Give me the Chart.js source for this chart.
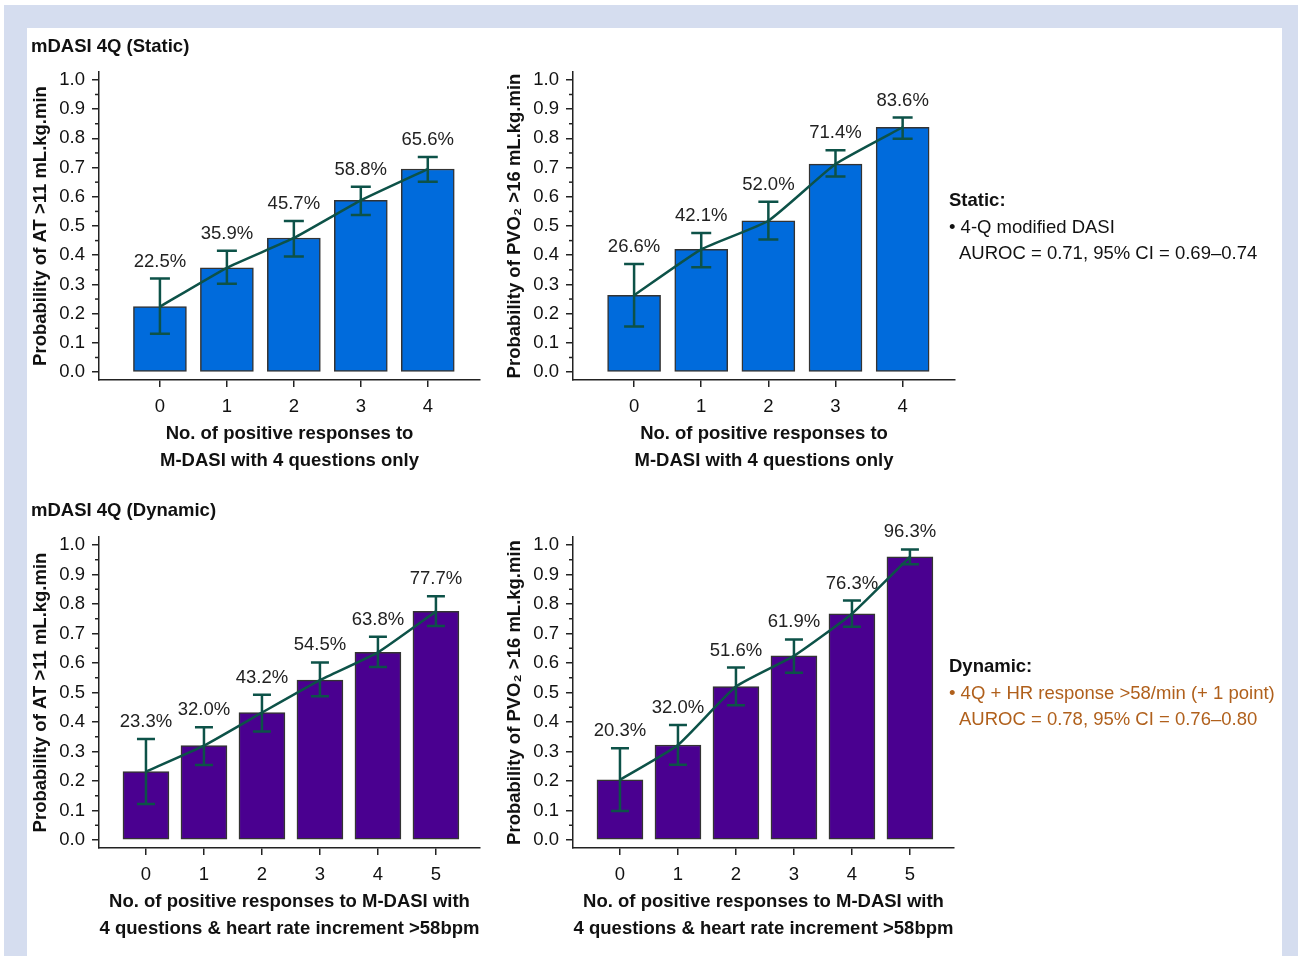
<!DOCTYPE html>
<html>
<head>
<meta charset="utf-8">
<script src="https://cdn.jsdelivr.net/npm/chart.js@4.4.1/dist/chart.umd.min.js"></script>
<style>
  body { margin: 0; width: 1298px; height: 956px; position: relative; overflow: hidden; background: #fff;
         font-family: "Liberation Sans", Arial, sans-serif; color: #111; }
  #frame { position: absolute; left: 4px; top: 5px; right: 0; bottom: 0; background: #d5ddef; }
  #inner { position: absolute; left: 27px; top: 28px; width: 1255px; bottom: 0; background: #fff; }
  canvas { position: absolute; }
  .txt { position: absolute; white-space: nowrap; line-height: 26px; }
  .head { font-size: 18.5px; font-weight: bold; }
  .note { font-size: 18.5px; }
  .dyn { color: #b0601c; }
</style>
</head>
<body>
<div id="frame"></div>
<div id="inner"></div>

<canvas id="c1" width="463" height="435" style="left:27px; top:45px;"></canvas>
<canvas id="c2" width="464" height="435" style="left:501px; top:45px;"></canvas>
<canvas id="c3" width="463" height="438" style="left:27px; top:510px;"></canvas>
<canvas id="c4" width="463" height="438" style="left:501px; top:510px;"></canvas>

<div class="txt head" style="left:31px; top:33px;">mDASI 4Q (Static)</div>
<div class="txt head" style="left:31px; top:497px;">mDASI 4Q (Dynamic)</div>

<div class="txt note" style="left:949px; top:187px;"><b>Static:</b></div>
<div class="txt note" style="left:949px; top:214px;">• 4-Q modified DASI</div>
<div class="txt note" style="left:959px; top:240px;">AUROC = 0.71, 95% CI = 0.69–0.74</div>

<div class="txt note" style="left:949px; top:653px;"><b>Dynamic:</b></div>
<div class="txt note dyn" style="left:949px; top:680px;">• 4Q + HR response &gt;58/min (+ 1 point)</div>
<div class="txt note dyn" style="left:959px; top:706px;">AUROC = 0.78, 95% CI = 0.76–0.80</div>

<script>
// categories and ticks
const staticCats = ["0", "1", "2", "3", "4"];
const dynamicCats = ["0", "1", "2", "3", "4", "5"];
const yTicks = [0, 0.1, 0.2, 0.3, 0.4, 0.5, 0.6, 0.7, 0.8, 0.9, 1.0];
const yMinorTicks = [0.05, 0.15, 0.25, 0.35, 0.45, 0.55, 0.65, 0.75, 0.85, 0.95];

// static, AT > 11
const atStaticBars = [0.224, 0.357, 0.459, 0.588, 0.695];
const atStaticLow = [0.131, 0.302, 0.396, 0.538, 0.651];
const atStaticHigh = [0.320, 0.415, 0.517, 0.634, 0.736];
const atStaticLabels = ["22.5%", "35.9%", "45.7%", "58.8%", "65.6%"];

// static, PVO2 > 16
const pvoStaticBars = [0.263, 0.420, 0.518, 0.712, 0.838];
const pvoStaticLow = [0.156, 0.359, 0.454, 0.669, 0.799];
const pvoStaticHigh = [0.370, 0.476, 0.583, 0.759, 0.871];
const pvoStaticLabels = ["26.6%", "42.1%", "52.0%", "71.4%", "83.6%"];

// dynamic, AT > 11
const atDynBars = [0.232, 0.320, 0.432, 0.542, 0.636, 0.775];
const atDynLow = [0.122, 0.254, 0.368, 0.487, 0.586, 0.725];
const atDynHigh = [0.342, 0.382, 0.492, 0.602, 0.689, 0.826];
const atDynLabels = ["23.3%", "32.0%", "43.2%", "54.5%", "63.8%", "77.7%"];

// dynamic, PVO2 > 16
const pvoDynBars = [0.204, 0.322, 0.520, 0.624, 0.767, 0.960];
const pvoDynLow = [0.098, 0.255, 0.457, 0.567, 0.723, 0.935];
const pvoDynHigh = [0.311, 0.390, 0.585, 0.680, 0.812, 0.985];
const pvoDynLabels = ["20.3%", "32.0%", "51.6%", "61.9%", "76.3%", "96.3%"];

const yTitleAT = "Probability of AT >11 mL.kg.min";
const yTitlePVO = "Probability of PVO\u2082 >16 mL.kg.min";
const xTitleStatic = ["No. of positive responses to", "M-DASI with 4 questions only"];
const xTitleDyn = ["No. of positive responses to M-DASI with", "4 questions & heart rate increment >58bpm"];

const TEAL = "#0d5248";
const AXIS = "#222";
const FS = 18.5;
Chart.defaults.font.family = '"Liberation Sans", Arial, sans-serif';
Chart.defaults.color = "#111";

// error bars, value labels and minor ticks
const extras = {
  id: "extras",
  afterDatasetsDraw(chart, args, opts) {
    const { ctx, scales: { x, y } } = chart;
    ctx.save();
    ctx.strokeStyle = TEAL;
    ctx.lineWidth = 2.5;
    opts.low.forEach((lo, i) => {
      const px = x.getPixelForValue(i);
      const y1 = y.getPixelForValue(lo);
      const y2 = y.getPixelForValue(opts.high[i]);
      ctx.beginPath();
      ctx.moveTo(px, y1); ctx.lineTo(px, y2);
      ctx.moveTo(px - opts.cap / 2, y1); ctx.lineTo(px + opts.cap / 2, y1);
      ctx.moveTo(px - opts.cap / 2, y2); ctx.lineTo(px + opts.cap / 2, y2);
      ctx.stroke();
    });
    ctx.fillStyle = "#222";
    ctx.font = FS + 'px "Liberation Sans", Arial, sans-serif';
    ctx.textAlign = "center";
    ctx.textBaseline = "middle";
    opts.labels.forEach((t, i) => {
      ctx.fillText(t, x.getPixelForValue(i), y.getPixelForValue(opts.high[i]) - 17);
    });
    ctx.strokeStyle = AXIS;
    ctx.lineWidth = 1.5;
    yMinorTicks.forEach(v => {
      const py = y.getPixelForValue(v);
      ctx.beginPath();
      ctx.moveTo(y.right - 4, py); ctx.lineTo(y.right, py);
      ctx.stroke();
    });
    ctx.restore();
  }
};

function makePanel(id, cats, bars, low, high, labels, color, yTitle, xTitle, xMin, xMax, barW, cap) {
  const pts = bars.map((v, i) => ({ x: i, y: v }));
  new Chart(document.getElementById(id), {
    type: "bar",
    data: {
      datasets: [
        {
          type: "line",
          data: pts,
          borderColor: TEAL,
          borderWidth: 2.5,
          pointRadius: 0,
          tension: 0.15,
          order: 1
        },
        {
          type: "bar",
          data: pts,
          backgroundColor: color,
          borderColor: "#333",
          borderWidth: 1.5,
          borderSkipped: false,
          barThickness: barW,
          order: 2
        }
      ]
    },
    options: {
      responsive: false,
      animation: false,
      devicePixelRatio: 1,
      layout: { padding: { top: 27, right: 10, left: 0, bottom: 0 } },
      plugins: {
        legend: { display: false },
        tooltip: { enabled: false },
        extras: { low: low, high: high, labels: labels, cap: cap }
      },
      scales: {
        x: {
          type: "linear",
          min: xMin,
          max: xMax,
          offset: false,
          afterBuildTicks: s => { s.ticks = cats.map((c, i) => ({ value: i })); },
          afterFit: s => { s.height = 100; s.paddingLeft = 0; s.paddingRight = 0; },
          ticks: { callback: v => cats[v], font: { size: FS }, color: "#111", padding: 9, maxRotation: 0 },
          grid: { drawOnChartArea: false, offset: false, tickLength: 7, color: AXIS, lineWidth: 1.5 },
          border: { color: AXIS, width: 1.5 },
          title: {
            display: true, text: xTitle, color: "#111",
            font: { size: FS, weight: "bold", lineHeight: 27 / FS },
            padding: { top: 0, bottom: 6 }
          }
        },
        y: {
          min: -0.027,
          max: 1.027,
          afterBuildTicks: s => { s.ticks = yTicks.map(v => ({ value: v })); },
          afterFit: s => { s.width = 72; s.paddingTop = 0; s.paddingBottom = 0; },
          ticks: { callback: v => v.toFixed(1), font: { size: FS }, color: "#111", padding: 7 },
          grid: { drawOnChartArea: false, tickLength: 7, color: AXIS, lineWidth: 1.5 },
          border: { color: AXIS, width: 1.5 },
          title: {
            display: true, text: yTitle, color: "#111",
            font: { size: FS, weight: "bold", lineHeight: 1.2 },
            padding: { top: 3, bottom: 0 }
          }
        }
      }
    },
    plugins: [extras]
  });
}

makePanel("c1", staticCats, atStaticBars, atStaticLow, atStaticHigh, atStaticLabels,
  "#006bdc", yTitleAT, xTitleStatic, -0.91, 4.78, 53, 20);
makePanel("c2", staticCats, pvoStaticBars, pvoStaticLow, pvoStaticHigh, pvoStaticLabels,
  "#006bdc", yTitlePVO, xTitleStatic, -0.91, 4.78, 53, 20);
makePanel("c3", dynamicCats, atDynBars, atDynLow, atDynHigh, atDynLabels,
  "#4a0090", yTitleAT, xTitleDyn, -0.81, 5.76, 46, 18);
makePanel("c4", dynamicCats, pvoDynBars, pvoDynLow, pvoDynHigh, pvoDynLabels,
  "#4a0090", yTitlePVO, xTitleDyn, -0.81, 5.76, 46, 18);
</script>
</body>
</html>
